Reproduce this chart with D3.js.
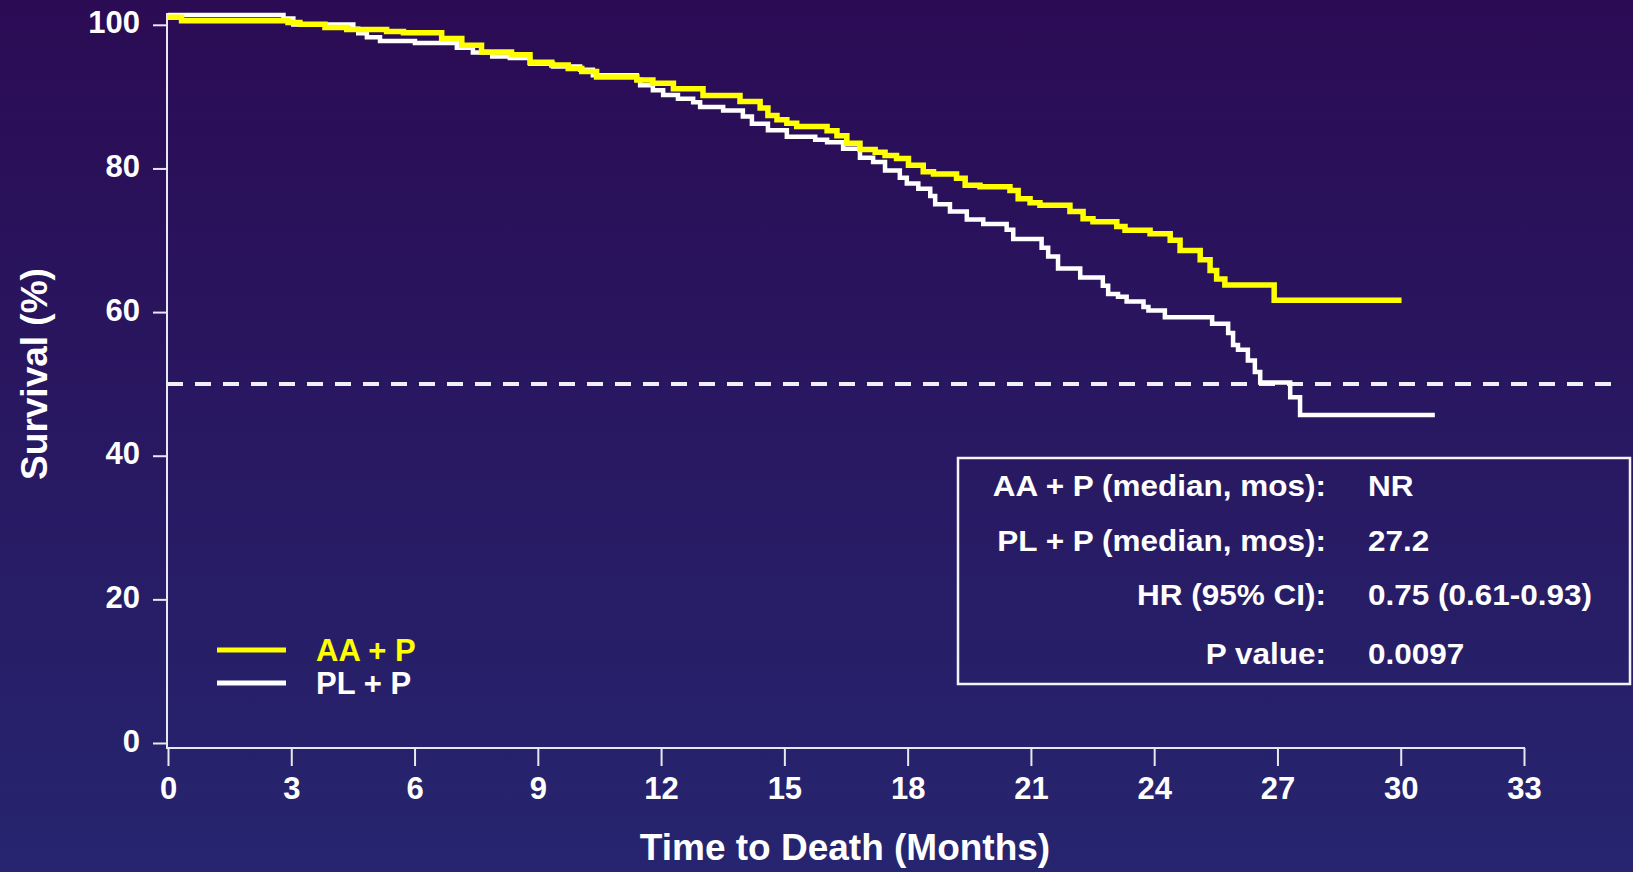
<!DOCTYPE html>
<html>
<head>
<meta charset="utf-8">
<script src="https://cdn.jsdelivr.net/npm/d3@7"></script>
<style>
  html, body { margin: 0; padding: 0; overflow: hidden; }
  svg { display: block; font-family: "Liberation Sans", Arial, sans-serif; font-weight: bold; }
</style>
</head>
<body>
<div id="chart"></div>
<script>
// Kaplan-Meier steps: month where each level starts, survival %
const aaMonths = [0, 0.33, 2.92, 3.21, 3.82, 4.35, 5.32, 5.73, 6.66, 7.15, 7.63, 8.36, 8.81, 9.34, 9.74, 10.07, 10.43,
  11.41, 11.80, 12.30, 13.02, 13.92, 14.41, 14.60, 14.82, 15.06, 15.30, 16.04, 16.28, 16.52, 16.84, 17.21, 17.45,
  17.73, 18.02, 18.38, 18.63, 19.19, 19.40, 19.76, 20.49, 20.69, 20.98, 21.22, 21.95, 22.27, 22.51, 23.09, 23.29,
  23.90, 24.39, 24.63, 25.12, 25.36, 25.52, 25.72, 26.92];
const aaSurv = [101.06, 100.56, 100.32, 100.07, 99.61, 99.33, 99.05, 98.91, 98.08, 97.14, 96.21, 95.82, 94.78, 94.39, 93.91, 93.50, 92.72,
  92.30, 91.87, 91.10, 90.15, 89.33, 88.40, 87.37, 86.77, 86.30, 85.83, 85.24, 84.54, 83.52, 82.63, 82.27, 81.80,
  81.38, 80.46, 79.53, 79.21, 78.65, 77.67, 77.44, 76.92, 75.77, 75.21, 74.89, 74.00, 72.98, 72.56, 71.91, 71.38,
  70.89, 69.99, 68.59, 67.27, 65.78, 64.62, 63.76, 61.66];
const aaEnd = 30.02;

const plMonths = [0, 2.81, 3.05, 4.51, 4.63, 4.84, 5.16, 6.01, 7.03, 7.42, 7.89, 8.32, 8.81, 9.37, 10.03, 10.34, 11.41,
  11.49, 11.80, 12.05, 12.41, 12.78, 12.95, 13.51, 13.99, 14.21, 14.60, 15.06, 15.75, 16.04, 16.43, 16.84, 17.16,
  17.45, 17.81, 17.98, 18.26, 18.55, 18.67, 19.03, 19.44, 19.84, 20.41, 20.57, 21.26, 21.42, 21.66, 22.20, 22.75,
  22.88, 23.12, 23.33, 23.74, 23.86, 24.26, 25.41, 25.80, 25.92, 26.04, 26.28, 26.45, 26.58, 27.31, 27.55];
const plSurv = [101.35, 100.88, 100.04, 99.44, 98.84, 98.26, 97.73, 97.47, 96.80, 96.14, 95.58, 95.36, 94.57, 94.19, 93.73, 92.99, 92.34,
  91.60, 90.90, 90.21, 89.69, 89.23, 88.54, 88.06, 87.23, 86.21, 85.33, 84.40, 83.98, 83.66, 82.73, 81.48, 80.88,
  79.71, 78.69, 77.90, 77.16, 76.18, 75.03, 74.00, 72.88, 72.28, 71.45, 70.19, 68.94, 67.73, 66.06, 64.81, 63.65,
  62.53, 62.12, 61.46, 60.72, 60.21, 59.29, 58.36, 57.10, 55.43, 54.74, 53.25, 51.67, 50.18, 48.15, 45.68];
const plEnd = 30.83;

const xTicks = [0, 3, 6, 9, 12, 15, 18, 21, 24, 27, 30, 33];
const yTicks = [0, 20, 40, 60, 80, 100];
const medianLine = 50;

const legendItems = [
  { label: "AA + P", color: "#ffff00" },
  { label: "PL + P", color: "#ffffff" }
];
const statLabels = ["AA + P (median, mos):", "PL + P (median, mos):", "HR (95% CI):", "P value:"];
const statValues = ["NR", "27.2", "0.75 (0.61-0.93)", "0.0097"];

const width = 1633, height = 872;
const axisColor = "#e8e8f0";

const svg = d3.select("#chart").append("svg")
  .attr("width", width)
  .attr("height", height);

// background gradient
const defs = svg.append("defs");
const grad = defs.append("linearGradient")
  .attr("id", "bg").attr("x1", 0).attr("y1", 0).attr("x2", 0).attr("y2", 1);
grad.append("stop").attr("offset", "0%").attr("stop-color", "#2b0b54");
grad.append("stop").attr("offset", "100%").attr("stop-color", "#26256f");
svg.append("rect").attr("width", width).attr("height", height).attr("fill", "url(#bg)");

const xScale = d3.scaleLinear().domain([0, 33]).range([168, 1524]);
const yScale = d3.scaleLinear().domain([0, 100]).range([743, 24.8]);

// y axis
const yAxis = svg.append("g")
  .attr("transform", "translate(167,0)")
  .call(d3.axisLeft(yScale).tickValues(yTicks).tickSize(14).tickPadding(13).tickSizeOuter(0));
yAxis.select(".domain").remove();
yAxis.selectAll(".tick line").attr("stroke", axisColor).attr("stroke-width", 2);
yAxis.selectAll(".tick text")
  .attr("fill", "#ffffff").attr("font-size", 31).attr("font-family", null).attr("dy", "0.26em");
svg.append("line")
  .attr("x1", 167).attr("x2", 167).attr("y1", 13).attr("y2", 748)
  .attr("stroke", axisColor).attr("stroke-width", 2);

// x axis
const xAxis = svg.append("g")
  .attr("transform", "translate(0,748)")
  .call(d3.axisBottom(xScale).tickValues(xTicks).tickSize(18).tickPadding(11).tickSizeOuter(0));
xAxis.select(".domain").remove();
xAxis.selectAll(".tick line").attr("stroke", axisColor).attr("stroke-width", 2);
xAxis.selectAll(".tick text")
  .attr("fill", "#ffffff").attr("font-size", 31).attr("font-family", null);
svg.append("line")
  .attr("x1", 166).attr("x2", xScale(33) + 1).attr("y1", 748).attr("y2", 748)
  .attr("stroke", axisColor).attr("stroke-width", 2);

// axis titles
svg.append("text")
  .attr("x", 845).attr("y", 860)
  .attr("text-anchor", "middle").attr("fill", "#ffffff").attr("font-size", 37)
  .text("Time to Death (Months)");
svg.append("text")
  .attr("transform", "translate(47,374) rotate(-90)")
  .attr("text-anchor", "middle").attr("fill", "#ffffff").attr("font-size", 37)
  .text("Survival (%)");

// 50% reference line
svg.append("line")
  .attr("x1", 167).attr("x2", 1617)
  .attr("y1", yScale(medianLine)).attr("y2", yScale(medianLine))
  .attr("stroke", "#f0f0f8").attr("stroke-width", 4).attr("stroke-dasharray", "16 12");

// curves
const line = d3.line()
  .x((d) => xScale(d[0]))
  .y((d) => yScale(d[1]))
  .curve(d3.curveStepAfter);

function steps(months, surv, end) {
  const pts = months.map((m, i) => [m, surv[i]]);
  pts.push([end, surv[surv.length - 1]]);
  return pts;
}

svg.append("path")
  .datum(steps(plMonths, plSurv, plEnd))
  .attr("d", line)
  .attr("fill", "none").attr("stroke", "#ffffff").attr("stroke-width", 4.5);

svg.append("path")
  .datum(steps(aaMonths, aaSurv, aaEnd))
  .attr("d", line)
  .attr("fill", "none").attr("stroke", "#ffff00").attr("stroke-width", 5.5);

// legend
const legend = svg.append("g");
legendItems.forEach((d, i) => {
  const ly = 650 + i * 33;
  legend.append("line")
    .attr("x1", 217).attr("x2", 286).attr("y1", ly).attr("y2", ly)
    .attr("stroke", d.color).attr("stroke-width", 5);
  legend.append("text")
    .attr("x", 316).attr("y", ly + 11)
    .attr("fill", d.color).attr("font-size", 31)
    .text(d.label);
});

// stats box
svg.append("rect")
  .attr("x", 958).attr("y", 458).attr("width", 672).attr("height", 226)
  .attr("fill", "none").attr("stroke", "#f4f4f8").attr("stroke-width", 2.5);

const rowY = [496, 551, 605, 663.5];
statLabels.forEach((s, i) => {
  svg.append("text")
    .attr("transform", `translate(1326,${rowY[i]}) scale(1.05,1)`)
    .attr("text-anchor", "end").attr("fill", "#ffffff").attr("font-size", 30)
    .text(s);
  svg.append("text")
    .attr("transform", `translate(1368,${rowY[i]}) scale(1.05,1)`)
    .attr("fill", "#ffffff").attr("font-size", 30)
    .text(statValues[i]);
});
</script>
</body>
</html>
